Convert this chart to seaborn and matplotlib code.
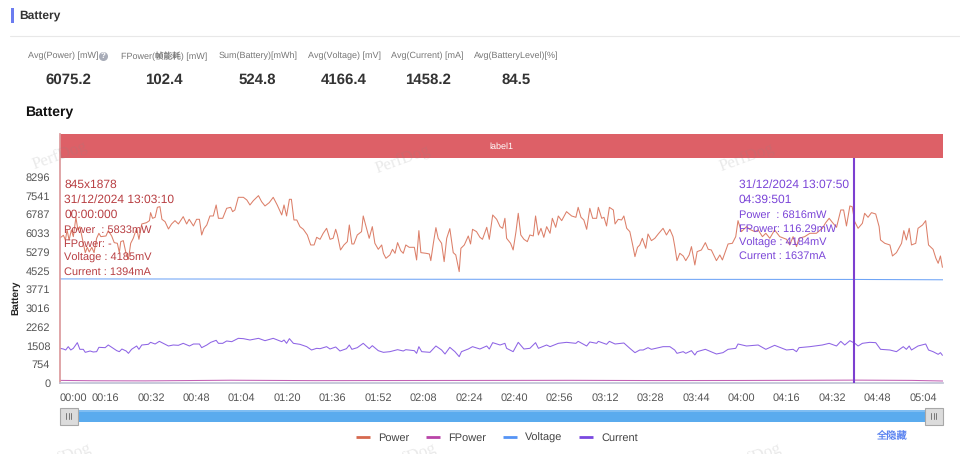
import matplotlib
matplotlib.use('Agg')
import matplotlib.pyplot as plt
from matplotlib.lines import Line2D
from matplotlib.patches import Rectangle
import seaborn as sns

# values (time in seconds)
power_t = [0, 1.2, 1.9, 2.5, 3.2, 4.0, 4.7, 5.6, 6.3, 7.0, 8.2, 8.9, 9.6, 10.3, 11.2, 12.0, 12.9, 13.7, 14.4, 16.2,
           17.0, 18.2, 19.1, 20.2, 20.9, 21.4, 22.3, 23.3, 24.1, 24.9, 25.8, 27.0, 27.8, 28.8, 30.5, 31.5, 31.9, 32.6, 33.5, 34.3,
           35.2, 35.9, 37.0, 38.2, 39.3, 40.5, 41.7, 43.4, 44.6, 45.5, 47.0, 48.1, 49.1, 49.9, 50.7, 51.7, 52.8, 54.0, 55.0, 55.8,
           57.3, 58.7, 60.1, 60.8, 61.6, 62.8, 64.6, 65.8, 66.9, 68.1, 69.9, 71.0, 72.2, 73.7, 75.1, 76.5, 78.1, 78.9, 79.8, 80.8,
           81.5, 82.4, 83.4, 84.5, 85.7, 87.1, 88.3, 89.5, 90.4, 91.6, 92.7, 93.9, 95.1, 96.2, 97.1, 97.7, 98.8, 100.0, 101.2, 101.9,
           102.8, 103.5, 104.7, 106.2, 106.8, 107.8, 108.9, 110.0, 110.9, 112.1, 113.3, 113.9, 114.8, 116.2, 117.1, 118.0, 118.9, 120.0, 120.9, 121.8,
           123.0, 124.8, 125.6, 126.4, 127.1, 128.9, 130.1, 130.6, 131.5, 132.4, 133.2, 134.4, 135.3, 136.2, 137.3, 138.5, 139.4, 140.6, 141.2, 142.4,
           143.8, 144.6, 145.3, 146.7, 147.9, 148.8, 150.3, 151.2, 152.4, 153.8, 155.0, 155.9, 156.7, 157.3, 158.7, 159.6, 160.6, 161.4, 162.3, 163.4,
           164.6, 165.5, 166.7, 167.5, 168.5, 169.4, 170.4, 171.4, 172.6, 173.4, 174.6, 175.5, 176.7, 178.4, 180.2, 181.7, 182.5, 183.5, 184.5, 185.5,
           186.6, 187.6, 189.0, 189.6, 190.8, 191.6, 192.5, 193.5, 194.9, 195.5, 196.6, 197.8, 198.6, 199.6, 200.7, 201.7, 202.5, 203.4, 204.2, 205.1,
           206.3, 207.1, 208.3, 209.5, 210.7, 212.4, 213.6, 214.8, 215.9, 216.5, 217.3, 218.3, 219.5, 220.4, 221.6, 222.4, 223.6, 224.4, 225.9, 227.3,
           228.3, 229.4, 231.2, 232.4, 233.3, 235.3, 236.8, 238.0, 238.8, 240.0, 241.8, 242.9, 244.7, 245.9, 247.4, 248.6, 250.0, 251.7, 253.5, 255.9,
           257.0, 258.2, 259.4, 260.3, 262.3, 264.1, 266.4, 268.5, 269.7, 270.9, 272.1, 273.5, 275.0, 276.0, 277.0, 278.2, 279.0, 279.9, 281.1, 282.6,
           283.4, 284.6, 285.8, 287.3, 288.5, 289.0, 290.5, 292.3, 293.2, 294.6, 296.4, 297.2, 298.1, 299.1, 299.9, 301.4, 302.2, 303.8, 304.9, 305.9,
           307.5, 308.5, 309.3, 310.1, 310.8]
power_v = [5833, 5939, 5751, 6153, 5751, 6153, 5885, 6662, 6153, 6287, 5617, 5242, 5456, 5269, 5456, 5242, 5818, 6019, 5885, 5912,
           6126, 5912, 5644, 5617, 5242, 5684, 5724, 5188, 4974, 5617, 5818, 6220, 5778, 6394, 6448, 6528, 6850, 6622, 6662, 7064,
           7091, 6582, 6488, 6193, 6394, 6528, 6394, 6689, 6394, 6582, 6314, 6582, 6582, 5952, 6207, 6354, 6716, 6716, 7158, 6622,
           6622, 7024, 7064, 6890, 6957, 7466, 7466, 7359, 7158, 7332, 7533, 7292, 7118, 7252, 7466, 7158, 6756, 7158, 6716, 7386,
           7386, 6555, 6555, 6287, 6180, 5952, 5550, 5550, 5858, 5778, 6019, 6220, 5778, 5818, 6180, 5952, 5349, 5550, 5684, 6354,
           5590, 5590, 5952, 6086, 6716, 6287, 5818, 6287, 5617, 5376, 5550, 5215, 5014, 5148, 5376, 5215, 5644, 5322, 5215, 5550,
           5456, 5456, 4947, 6126, 5242, 5215, 5188, 4920, 5617, 6247, 5818, 5617, 4880, 5818, 6207, 5242, 5148, 4478, 5416, 5550,
           5912, 5590, 6180, 6086, 5858, 5778, 6260, 5778, 6756, 6582, 6287, 6220, 6622, 5818, 5617, 5349, 6086, 6823, 5952, 5778,
           5684, 5952, 5912, 6716, 5952, 6220, 5858, 6287, 6019, 6622, 6260, 6716, 6528, 6890, 6716, 6662, 7064, 6662, 6555, 6180,
           7024, 6622, 6622, 7064, 6622, 6662, 6314, 7064, 6957, 6394, 6582, 6555, 6716, 6220, 6086, 5550, 5081, 5456, 5550, 5818,
           5416, 5992, 5724, 5818, 5992, 6220, 5952, 6180, 5885, 5510, 4920, 5215, 5108, 4920, 5148, 5483, 4746, 5282, 5349, 5644,
           5376, 5349, 4920, 5148, 4947, 5590, 5617, 5885, 6528, 6086, 6287, 6180, 6086, 6153, 5885, 6019, 5818, 6153, 5885, 5778,
           5550, 5885, 5483, 5818, 5885, 6019, 6019, 6220, 6448, 6622, 6448, 6260, 6957, 6957, 6314, 7118, 7091, 6488, 6220, 6421,
           6823, 6662, 6850, 6796, 6287, 5751, 5617, 5550, 5108, 5242, 5617, 6126, 5751, 6220, 5550, 5617, 6220, 6354, 6528, 5550,
           5376, 5014, 4813, 5108, 4652]

current_t = [0, 1.2, 2.0, 2.9, 3.8, 4.7, 6.1, 7.0, 8.2, 8.9, 10.6, 11.7, 12.9, 13.7, 15.9, 17.0, 18.8, 20.0, 20.9, 21.8,
             23.3, 24.1, 25.2, 27.0, 27.8, 28.8, 31.1, 31.9, 33.5, 35.0, 36.4, 38.2, 39.9, 41.7, 43.4, 45.6, 47.0, 49.1, 49.9, 51.7,
             53.1, 55.0, 55.8, 57.3, 58.7, 60.5, 62.8, 64.6, 66.9, 69.9, 72.2, 75.1, 78.1, 78.9, 79.8, 80.8, 82.2, 84.5, 86.9, 88.6,
             90.4, 91.6, 93.9, 95.1, 97.1, 98.6, 100.9, 101.9, 102.8, 104.7, 106.8, 108.9, 110.0, 112.1, 113.9, 116.2, 118.9, 120.9, 121.8, 124.8,
             125.6, 126.4, 127.4, 130.3, 132.4, 134.4, 135.6, 137.3, 139.1, 140.6, 141.4, 143.8, 145.3, 147.9, 150.3, 151.2, 152.4, 155.0, 156.7, 157.3,
             159.6, 161.4, 163.4, 165.5, 167.5, 168.5, 171.4, 172.6, 175.5, 178.4, 181.7, 182.5, 185.5, 186.6, 189.0, 189.6, 192.5, 193.5, 195.5, 198.6,
             200.7, 202.5, 204.2, 205.4, 207.1, 208.3, 212.4, 214.8, 216.5, 217.3, 219.5, 220.4, 222.4, 223.6, 224.4, 227.3, 231.2, 233.5, 235.3, 238.0,
             238.8, 241.8, 245.9, 248.6, 251.7, 255.9, 258.2, 259.4, 260.3, 264.1, 268.5, 270.9, 273.5, 275.0, 276.4, 278.2, 279.9, 281.1, 282.6, 285.2,
             287.3, 289.0, 292.3, 294.6, 297.0, 298.1, 299.1, 299.9, 302.2, 304.9, 305.9, 307.5, 309.3, 310.1, 310.8]
current_v = [1394, 1367, 1327, 1461, 1327, 1394, 1622, 1354, 1354, 1233, 1287, 1247, 1260, 1434, 1421, 1528, 1394, 1300, 1260, 1367,
             1287, 1193, 1354, 1488, 1354, 1528, 1555, 1635, 1568, 1675, 1595, 1488, 1528, 1515, 1595, 1488, 1568, 1568, 1421, 1528,
             1635, 1716, 1595, 1595, 1689, 1662, 1796, 1783, 1729, 1796, 1702, 1796, 1662, 1729, 1595, 1783, 1595, 1555, 1461, 1327,
             1394, 1380, 1461, 1367, 1448, 1287, 1380, 1528, 1354, 1421, 1595, 1380, 1501, 1300, 1233, 1260, 1340, 1287, 1340, 1300,
             1193, 1461, 1260, 1233, 1488, 1327, 1166, 1434, 1260, 1059, 1260, 1367, 1461, 1367, 1488, 1367, 1622, 1528, 1595, 1394,
             1260, 1635, 1367, 1394, 1622, 1394, 1528, 1461, 1595, 1635, 1595, 1675, 1488, 1649, 1595, 1675, 1555, 1675, 1568, 1608,
             1394, 1220, 1327, 1327, 1421, 1354, 1461, 1461, 1327, 1193, 1260, 1193, 1300, 1126, 1260, 1354, 1166, 1220, 1354, 1394,
             1568, 1488, 1528, 1354, 1515, 1327, 1354, 1260, 1421, 1461, 1528, 1595, 1488, 1675, 1528, 1702, 1600, 1488, 1595, 1635,
             1622, 1354, 1327, 1260, 1461, 1354, 1488, 1327, 1488, 1568, 1327, 1260, 1153, 1220, 1113]

voltage_t = [0, 60, 120, 180, 240, 279.5, 311]
voltage_v = [4185, 4180, 4172, 4168, 4166, 4164, 4150]

fpower_t = [0, 12, 30, 60, 90, 120, 150, 180, 210, 240, 280, 300, 311]
fpower_v = [105, 90, 85, 112, 95, 100, 104, 108, 98, 102, 116, 105, 80]

y_ticks = [0, 754, 1508, 2262, 3016, 3771, 4525, 5279, 6033, 6787, 7541, 8296]
x_ticks = [0, 16, 32, 48, 64, 80, 96, 112, 128, 144, 160, 176, 192, 208, 224, 240, 256, 272, 288, 304]
x_labels = ['00:00', '00:16', '00:32', '00:48', '01:04', '01:20', '01:36', '01:52', '02:08', '02:24',
            '02:40', '02:56', '03:12', '03:28', '03:44', '04:00', '04:16', '04:32', '04:48', '05:04']

kpi_names = ['Avg(Power) [mW]', 'FPower(帧能耗) [mW]', 'Sum(Battery)[mWh]', 'Avg(Voltage) [mV]', 'Avg(Current) [mA]', 'Avg(BatteryLevel)[%]']
kpi_values = ['6075.2', '102.4', '524.8', '4166.4', '1458.2', '84.5']
kpi_x = [63, 164, 258, 344, 427, 516]
kpi_val_x = [68, 164, 257, 344, 428, 516]

names = ['Power', 'FPower', 'Voltage', 'Current']
colors = ['#d6694f', '#b944a8', '#5594f5', '#7a49e0']

sns.set_theme(style='white')
plt.rcParams['font.family'] = ['Liberation Sans', 'Noto Sans CJK SC', 'DejaVu Sans']
plt.rcParams['text.hinting'] = 'no_hinting'
plt.rcParams['text.hinting_factor'] = 1

fig = plt.figure(figsize=(9.6, 4.54), dpi=100)
ax = fig.add_axes([60 / 960, (454 - 383) / 454, 883 / 960, 249 / 454])

sns.lineplot(x=power_t, y=power_v, ax=ax, color=colors[0], linewidth=0.75, alpha=0.85, estimator=None, legend=False)
sns.lineplot(x=fpower_t, y=fpower_v, ax=ax, color=colors[1], linewidth=0.75, alpha=0.85, estimator=None, legend=False)
sns.lineplot(x=voltage_t, y=voltage_v, ax=ax, color=colors[2], linewidth=0.75, alpha=0.85, estimator=None, legend=False)
sns.lineplot(x=current_t, y=current_v, ax=ax, color=colors[3], linewidth=0.75, alpha=0.85, estimator=None, legend=False)

ax.set_xlim(0, 311)
ax.set_ylim(0, 10012)
ax.axhspan(9048, 10012, color='#dd6067', lw=0, zorder=1)
ax.vlines(279.8, 0, 9048, color='#7c3fd0', linewidth=1.5, zorder=5)

ax.set_yticks(y_ticks)
ax.set_xticks(x_ticks)
ax.set_xticklabels(x_labels)
ax.get_xticklabels()[0].set_ha('left')
ax.tick_params(axis='both', length=4, width=1, color='#b4b8cc', labelcolor='#555555', labelsize=7.6, pad=3)
ax.set_ylabel('Battery', fontsize=7, fontweight='bold', color='#222222')
ax.yaxis.set_label_coords(-40 / 883, 0.341)
sns.despine(ax=ax)
ax.spines['bottom'].set_color('#c0c4d6')
ax.spines['left'].set_color('#dc9a9c')

# page furniture is drawn on a pixel overlay
ov = fig.add_axes([0, 0, 1, 1], zorder=5)
ov.set_xlim(0, 960)
ov.set_ylim(454, 0)
ov.axis('off')
ov.patch.set_alpha(0)

ov.add_patch(Rectangle((11, 8), 2.5, 15, color='#6b7cf0', lw=0))
ov.text(19, 15.5, 'Battery', fontsize=8.8, fontweight='bold', color='#333333', va='center')
ov.plot([10, 960], [35.5, 35.5], color='#e8e8e8', lw=0.8)
for nx, vx, n, v in zip(kpi_x, kpi_val_x, kpi_names, kpi_values):
    ov.text(nx, 56, n, fontsize=6.2, color='#777777', ha='center', va='center')
    ov.text(vx, 80, v, fontsize=11, fontweight='bold', color='#333333', ha='center', va='center')
ov.plot([103], [56], marker='o', ms=6.5, color='#a8acb8', mew=0)
ov.text(103, 56, '?', fontsize=5.5, color='white', ha='center', va='center', fontweight='bold')
ov.text(25, 112, 'Battery', fontsize=10.2, fontweight='bold', color='#111111', va='center')
ov.text(501, 146.5, 'label1', fontsize=6.2, color='white', ha='center', va='center')

red = '#b83e42'
for y, s, size in [(185, '845x1878', 8.6), (200, '31/12/2024 13:03:10', 8.6), (215, '00:00:000', 8.6),
                   (230, 'Power  : 5833mW', 7.6), (244, 'FPower: -', 7.6), (258, 'Voltage : 4185mV', 7.6), (272, 'Current : 1394mA', 7.6)]:
    ov.text(64.5, y, s, fontsize=size, color=red, va='center')
purple = '#7b45d8'
for y, s, size in [(185, '31/12/2024 13:07:50', 8.6), (200, '04:39:501', 8.6), (215, 'Power  : 6816mW', 7.6),
                   (229, 'FPower: 116.29mW', 7.6), (243, 'Voltage : 4184mV', 7.6), (256, 'Current : 1637mA', 7.6)]:
    ov.text(739, y, s, fontsize=size, color=purple, va='center')

# watermark
for wx, wy in [(60, 156), (403, 160), (747, 158), (64, 458), (409, 458), (754, 458)]:
    ov.text(wx, wy, 'PerfDog', fontsize=12, family='Liberation Serif', color='#888888', alpha=0.18,
            rotation=20, ha='center', va='center', clip_on=True)

# zoom slider
ov.add_patch(Rectangle((60, 410), 883, 12, color='#5aabee', lw=0))
ov.add_patch(Rectangle((60, 410), 883, 2, color='#7fbdf2', lw=0))
for hx in [59.5, 924.5]:
    ov.add_patch(Rectangle((hx, 407.5), 18, 17, facecolor='#dcdcdc', edgecolor='#a8a8a8', lw=0.8))
    for off in [6.5, 9, 11.5]:
        ov.plot([hx + off, hx + off], [413, 419], color='#777777', lw=0.7)

handles = [Line2D([], [], color=c, lw=2, solid_capstyle='butt') for c in colors]
fig.legend(handles, names, ncol=4, loc='center', bbox_to_anchor=(497 / 960, (454 - 438) / 454), frameon=False,
           fontsize=7.8, handlelength=1.3, handletextpad=0.8, columnspacing=1.5, labelcolor='#444444')
ov.text(891, 436, '全隐藏', fontsize=7.4, color='#5a83f0', ha='center', va='center')

fig.savefig('out.png', dpi=100)
